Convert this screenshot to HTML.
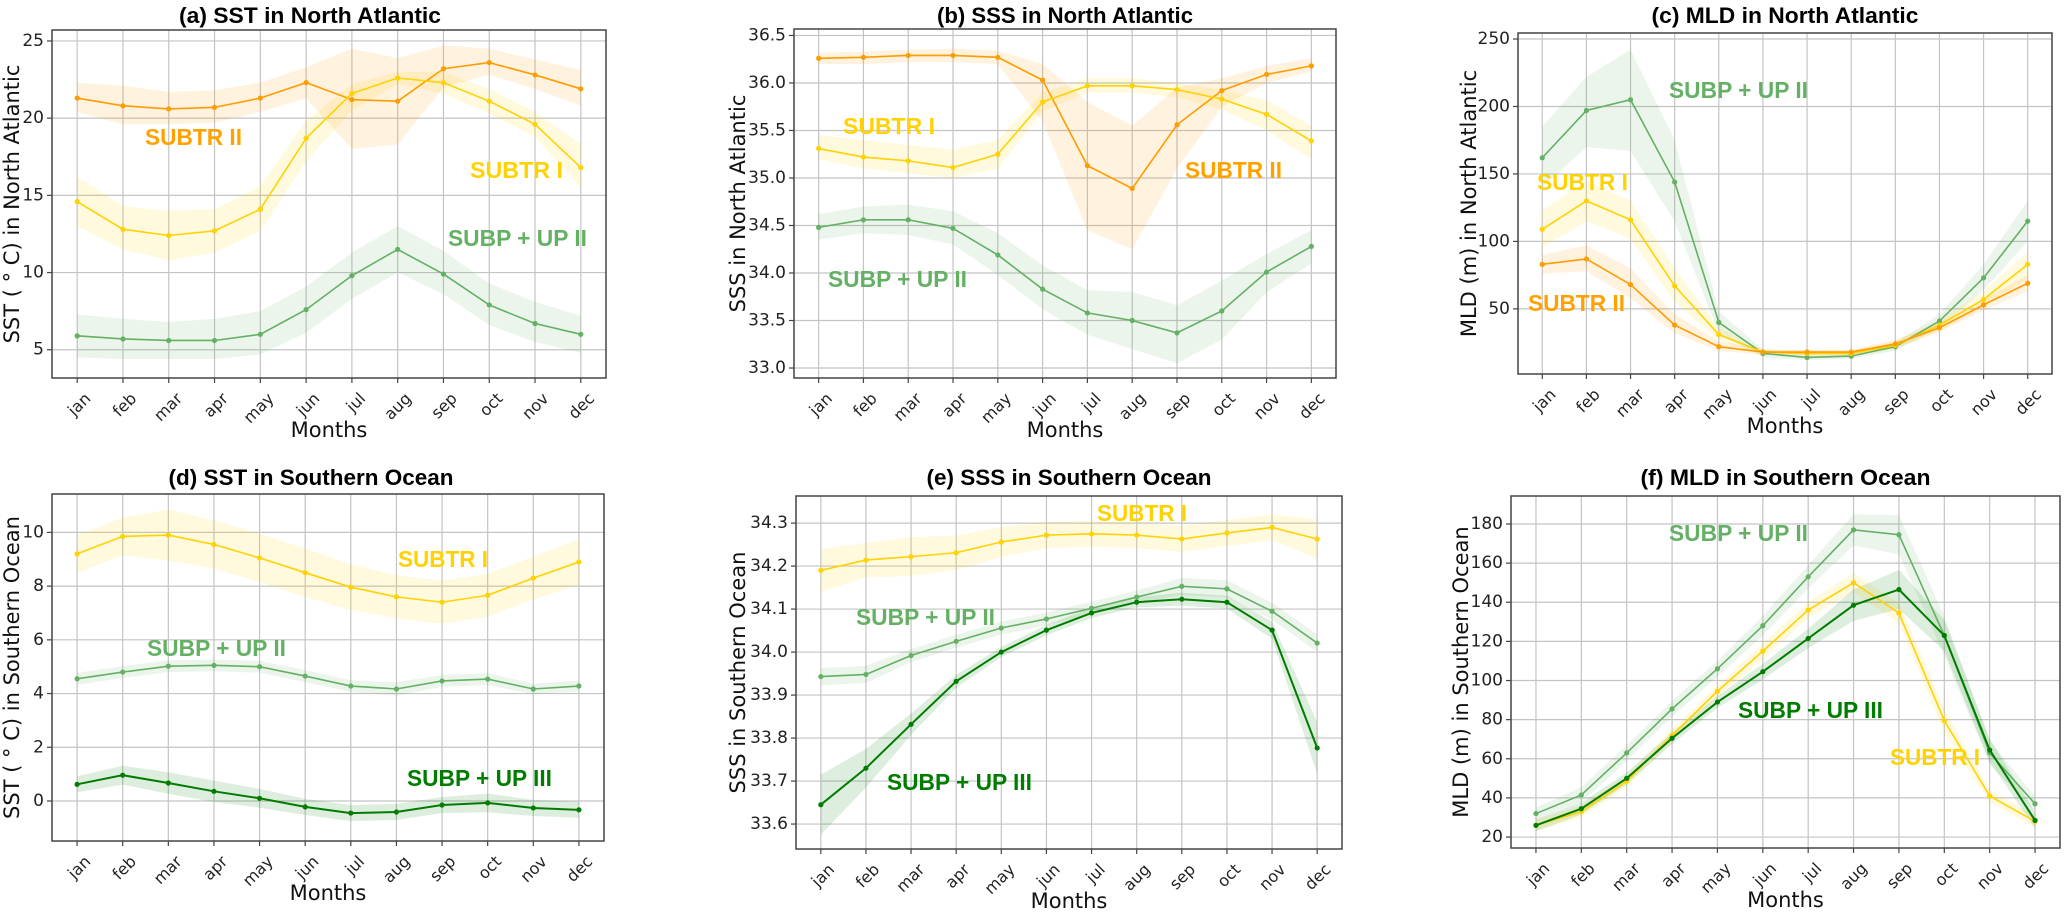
<!DOCTYPE html>
<html><head><meta charset="utf-8"><title>Seasonal cycles</title>
<style>
html,body{margin:0;padding:0;background:#fff;}
svg{display:block;}
</style></head>
<body>
<svg id="fig" xmlns="http://www.w3.org/2000/svg" width="2066" height="914" viewBox="0 0 2066 914"></svg>
<script>
const months = ['jan','feb','mar','apr','may','jun','jul','aug','sep','oct','nov','dec'];

// (a) SST North Atlantic
const aTicks = [5,10,15,20,25];
const aOrange = [21.3,20.8,20.6,20.7,21.3,22.3,21.2,21.1,23.2,23.6,22.8,21.9];
const aOrangeLo = [20.4,19.6,19.6,19.7,20.4,21.3,18.0,18.3,22.0,22.8,21.9,20.8];
const aOrangeHi = [22.3,22.1,21.7,21.8,22.3,23.3,24.5,23.9,24.7,24.5,23.8,23.1];
const aYellow = [14.6,12.8,12.4,12.7,14.1,18.7,21.6,22.6,22.3,21.1,19.6,16.8];
const aYellowLo = [13.0,11.5,10.8,11.3,12.7,17.2,20.5,22.2,21.6,20.3,18.8,15.5];
const aYellowHi = [16.2,14.3,14.0,14.1,15.6,19.8,22.2,23.0,23.0,21.9,20.4,18.3];
const aGreen = [5.9,5.7,5.6,5.6,6.0,7.6,9.8,11.5,9.9,7.9,6.7,6.0];
const aGreenLo = [4.5,4.4,4.4,4.4,4.7,6.1,8.3,10.0,8.6,6.6,5.5,4.8];
const aGreenHi = [7.3,7.0,6.8,7.0,7.5,9.1,11.3,13.0,11.4,9.3,8.1,7.2];

// (b) SSS North Atlantic
const bTicks = [33.0,33.5,34.0,34.5,35.0,35.5,36.0,36.5];
const bOrange = [36.26,36.27,36.29,36.29,36.27,36.03,35.13,34.89,35.56,35.92,36.09,36.18];
const bOrangeLo = [36.20,36.20,36.22,36.22,36.20,35.6,34.45,34.25,35.1,35.75,36.0,36.12];
const bOrangeHi = [36.32,36.33,36.35,36.36,36.34,36.2,35.8,35.55,35.95,36.05,36.18,36.26];
const bYellow = [35.31,35.22,35.18,35.11,35.25,35.80,35.97,35.97,35.93,35.83,35.67,35.39];
const bYellowLo = [35.2,35.1,35.05,35.0,35.1,35.7,35.9,35.9,35.85,35.72,35.5,35.2];
const bYellowHi = [35.45,35.4,35.35,35.3,35.4,35.9,36.05,36.05,36.0,35.93,35.82,35.55];
const bGreen = [34.48,34.56,34.56,34.47,34.19,33.83,33.58,33.50,33.37,33.60,34.01,34.28];
const bGreenLo = [34.35,34.42,34.4,34.3,33.98,33.62,33.35,33.2,33.05,33.3,33.8,34.1];
const bGreenHi = [34.62,34.7,34.72,34.65,34.42,34.08,33.82,33.8,33.66,33.92,34.2,34.45];

// (c) MLD North Atlantic
const cTicks = [50,100,150,200,250];
const cGreen = [162,197,205,144,40,17,14,15,22,41,73,115];
const cGreenLo = [140,170,167,115,32,14,12,13,19,36,64,100];
const cGreenHi = [185,222,242,175,48,20,16,17,25,46,83,130];
const cYellow = [109,130,116,67,31,18,17,17,23,38,57,83];
const cYellowLo = [95,115,102,55,27,16,15,15,20,34,51,73];
const cYellowHi = [123,145,130,80,36,20,19,19,26,42,63,92];
const cOrange = [83,87,68,38,22,18,18,18,24,36,53,69];
const cOrangeLo = [76,78,58,32,19,16,16,16,21,33,49,63];
const cOrangeHi = [90,97,80,46,26,20,20,20,27,40,57,75];

// (d) SST Southern Ocean
const dTicks = [0,2,4,6,8,10];
const dYellow = [9.2,9.85,9.9,9.55,9.05,8.5,7.96,7.6,7.4,7.66,8.3,8.9];
const dYellowHw = [0.7,0.7,0.95,0.9,0.9,0.9,0.85,0.8,0.8,0.8,0.8,0.85];
const dGreen = [4.55,4.8,5.02,5.05,5.0,4.65,4.28,4.17,4.47,4.54,4.17,4.28];
const dGreenHw = [0.22,0.22,0.22,0.22,0.22,0.22,0.22,0.25,0.22,0.22,0.2,0.2];
const dDark = [0.62,0.96,0.67,0.36,0.1,-0.22,-0.45,-0.41,-0.15,-0.07,-0.26,-0.33];
const dDarkHw = [0.3,0.35,0.4,0.4,0.35,0.3,0.3,0.3,0.3,0.35,0.3,0.3];

// (e) SSS Southern Ocean
const eTicks = [33.6,33.7,33.8,33.9,34.0,34.1,34.2,34.3];
const eYellow = [34.19,34.214,34.222,34.231,34.256,34.272,34.275,34.272,34.263,34.277,34.29,34.263];
const eYellowHw = [0.05,0.04,0.045,0.04,0.035,0.03,0.03,0.03,0.03,0.03,0.03,0.045];
const eGreen = [33.943,33.948,33.992,34.025,34.056,34.077,34.102,34.128,34.153,34.147,34.095,34.021];
const eGreenHw = [0.02,0.02,0.015,0.015,0.015,0.015,0.015,0.015,0.02,0.02,0.02,0.02];
const eDark = [33.645,33.73,33.832,33.932,34.0,34.051,34.091,34.116,34.123,34.116,34.051,33.777];
const eDarkHw = [0.07,0.045,0.025,0.015,0.012,0.012,0.012,0.012,0.015,0.015,0.02,0.06];

// (f) MLD Southern Ocean
const fTicks = [20,40,60,80,100,120,140,160,180];
const fGreen = [32,41.5,63,85.5,106,128,153,177,174.5,123,63,37];
const fGreenHw = [3,4,4,4,4,5,6,8,10,10,6,4];
const fYellow = [26,33,48.5,72,94.5,115,136,150,134.5,79.5,41,28];
const fYellowHw = [3,3,3,3,3,4,4,5,5,6,3,3];
const fDark = [26,34.5,50,70.5,89,104.5,121.5,138.5,146.5,123,64.5,28.5];
const fDarkHw = [3,3,3,3,3,4,5,8,10,8,6,4];

const COL = {orange:'#ff9c00', orangeTxt:'#ffa200', yellow:'#ffd200', green:'#64b064', dark:'#007c00'};
const NS = 'http://www.w3.org/2000/svg';
const svg = document.getElementById('fig');

function mk(parent, tag, attrs, text){
  const e = document.createElementNS(NS, tag);
  for (const k in attrs) e.setAttribute(k, attrs[k]);
  if (text !== undefined) e.textContent = text;
  parent.appendChild(e);
  return e;
}
function band(vals, hw, lo, hi){
  if (lo) return {lo:lo, hi:hi};
  return {lo: vals.map((v,i)=>v-hw[i]), hi: vals.map((v,i)=>v+hw[i])};
}

const panels = [
 {id:'a', title:'(a) SST in North Atlantic', tl:262, tcx:310, ty:23, ylabel:'SST ( \u00b0 C) in North Atlantic', ylx:12,
  x0:52,x1:606,y0:30,y1:378,d0:3.17,d1:25.71, ticks:aTicks, dec:0,
  series:[
   {n:'subtr-ii', c:COL.orange, v:aOrange, b:band(aOrange,null,aOrangeLo,aOrangeHi)},
   {n:'subtr-i', c:COL.yellow, v:aYellow, b:band(aYellow,null,aYellowLo,aYellowHi)},
   {n:'subp-up-ii', c:COL.green, v:aGreen, b:band(aGreen,null,aGreenLo,aGreenHi)}],
  labels:[['SUBTR II',COL.orangeTxt,145,137,97],['SUBTR I',COL.yellow,470,170,93],['SUBP + UP II',COL.green,448,238,139]]},
 {id:'b', title:'(b) SSS in North Atlantic', tl:256, ty:23, ylabel:'SSS in North Atlantic', ylx:738,
  x0:794,x1:1336,y0:29,y1:378,d0:32.895,d1:36.568, ticks:bTicks, dec:1,
  series:[
   {n:'subtr-ii', c:COL.orange, v:bOrange, b:band(bOrange,null,bOrangeLo,bOrangeHi)},
   {n:'subtr-i', c:COL.yellow, v:bYellow, b:band(bYellow,null,bYellowLo,bYellowHi)},
   {n:'subp-up-ii', c:COL.green, v:bGreen, b:band(bGreen,null,bGreenLo,bGreenHi)}],
  labels:[['SUBTR I',COL.yellow,843,126,92],['SUBTR II',COL.orangeTxt,1185,170,97],['SUBP + UP II',COL.green,828,279,139]]},
 {id:'c', title:'(c) MLD in North Atlantic', tl:267, ty:23, ylabel:'MLD (m) in North Atlantic', ylx:1469,
  x0:1518,x1:2052,y0:33,y1:374,d0:1.74,d1:254.45, ticks:cTicks, dec:0,
  series:[
   {n:'subp-up-ii', c:COL.green, v:cGreen, b:band(cGreen,null,cGreenLo,cGreenHi)},
   {n:'subtr-i', c:COL.yellow, v:cYellow, b:band(cYellow,null,cYellowLo,cYellowHi)},
   {n:'subtr-ii', c:COL.orange, v:cOrange, b:band(cOrange,null,cOrangeLo,cOrangeHi)}],
  labels:[['SUBP + UP II',COL.green,1669,90,139],['SUBTR I',COL.yellow,1537,182,91],['SUBTR II',COL.orangeTxt,1528,303,97]]},
 {id:'d', title:'(d) SST in Southern Ocean', tl:285, tcx:311, ty:485, ylabel:'SST ( \u00b0 C) in Southern Ocean', ylx:12,
  x0:52,x1:604,y0:494,y1:841,d0:-1.49,d1:11.43, ticks:dTicks, dec:0,
  series:[
   {n:'subtr-i', c:COL.yellow, v:dYellow, b:band(dYellow,dYellowHw)},
   {n:'subp-up-ii', c:COL.green, v:dGreen, b:band(dGreen,dGreenHw)},
   {n:'subp-up-iii', c:COL.dark, v:dDark, b:band(dDark,dDarkHw), w:2}],
  labels:[['SUBP + UP II',COL.green,147,648,139],['SUBTR I',COL.yellow,398,559,90],['SUBP + UP III',COL.dark,407,778,145]]},
 {id:'e', title:'(e) SSS in Southern Ocean', tl:285, ty:485, ylabel:'SSS in Southern Ocean', ylx:738,
  x0:796,x1:1342,y0:496,y1:849,d0:33.542,d1:34.363, ticks:eTicks, dec:1,
  series:[
   {n:'subtr-i', c:COL.yellow, v:eYellow, b:band(eYellow,eYellowHw)},
   {n:'subp-up-ii', c:COL.green, v:eGreen, b:band(eGreen,eGreenHw)},
   {n:'subp-up-iii', c:COL.dark, v:eDark, b:band(eDark,eDarkHw), w:2}],
  labels:[['SUBTR I',COL.yellow,1097,513,90],['SUBP + UP II',COL.green,856,617,139],['SUBP + UP III',COL.dark,887,782,145]]},
 {id:'f', title:'(f) MLD in Southern Ocean', tl:290, ty:485, ylabel:'MLD (m) in Southern Ocean', ylx:1461,
  x0:1511,x1:2060,y0:496,y1:848,d0:14.4,d1:194.3, ticks:fTicks, dec:0,
  series:[
   {n:'subp-up-ii', c:COL.green, v:fGreen, b:band(fGreen,fGreenHw)},
   {n:'subtr-i', c:COL.yellow, v:fYellow, b:band(fYellow,fYellowHw)},
   {n:'subp-up-iii', c:COL.dark, v:fDark, b:band(fDark,fDarkHw), w:2}],
  labels:[['SUBP + UP II',COL.green,1669,533,139],['SUBP + UP III',COL.dark,1738,710,145],['SUBTR I',COL.yellow,1890,757,90]]}
];

const SANS = '"DejaVu Sans","Liberation Sans",sans-serif';
const BOLD = '"Liberation Sans",sans-serif';

panels.forEach(p=>{
  const X = i => p.x0 + (i+0.55)/12.1*(p.x1-p.x0);
  const Y = v => p.y1 - (v-p.d0)/(p.d1-p.d0)*(p.y1-p.y0);
  const g = mk(svg,'g',{});
  
  
  const cx = (p.x0+p.x1)/2, cy=(p.y0+p.y1)/2;

  // grid
  const grid = mk(g,'g',{stroke:'#c4c4c4','stroke-width':1.2});
  
  
  months.forEach((m,i)=>{ mk(grid,'line',{x1:X(i),x2:X(i),y1:p.y0,y2:p.y1}); });
  p.ticks.forEach(t=>{ mk(grid,'line',{x1:p.x0,x2:p.x1,y1:Y(t),y2:Y(t)}); });

  // series
  p.series.forEach(s=>{
    const pts = s.b.hi.map((v,i)=>X(i)+','+Y(v)).concat(s.b.lo.map((v,i)=>X(i)+','+Y(v)).reverse());
    const poly = mk(g,'polygon',{points:pts.join(' '),fill:s.c,'fill-opacity':0.13,stroke:'none'});
    
    
  });
  p.series.forEach(s=>{
    const line = mk(g,'polyline',{points:s.v.map((v,i)=>X(i)+','+Y(v)).join(' '),fill:'none',stroke:s.c,'stroke-width':s.w||1.6});
    
    
    s.v.forEach((v,i)=>{
      const c = mk(g,'circle',{cx:X(i),cy:Y(v),r:2.6,fill:s.c});
      
      
    });
  });

  // frame
  const fr = mk(g,'rect',{x:p.x0,y:p.y0,width:p.x1-p.x0,height:p.y1-p.y0,fill:'none',stroke:'#444','stroke-width':1.5});
  
  

  // y ticks
  p.ticks.forEach(t=>{
    mk(g,'line',{x1:p.x0-5,x2:p.x0,y1:Y(t),y2:Y(t),stroke:'#444','stroke-width':1.2});
    const tl = mk(g,'text',{x:p.x0-8,y:Y(t),'text-anchor':'end','dominant-baseline':'central','font-family':SANS,'font-size':17,fill:'#222'}, t.toFixed(p.dec));
    
    
  });
  // x ticks
  months.forEach((m,i)=>{
    mk(g,'line',{x1:X(i),x2:X(i),y1:p.y1,y2:p.y1+5,stroke:'#444','stroke-width':1.2});
    const ax = X(i)+6, ay = p.y1+13;
    const tl = mk(g,'text',{x:ax,y:ay,'text-anchor':'end','dominant-baseline':'hanging','font-family':SANS,'font-size':16,fill:'#222',transform:'rotate(-45 '+ax+' '+ay+')'}, m);
    
    
  });

  // title
  const tcx = p.tcx || cx;
  const tt = mk(g,'text',{x:tcx,y:p.ty,'text-anchor':'middle','font-family':BOLD,'font-weight':'bold','font-size':22,fill:'#000',textLength:p.tl,lengthAdjust:'spacingAndGlyphs'}, p.title);
  
  
  // y label
  const yl = mk(g,'text',{x:p.ylx,y:cy,'text-anchor':'middle','dominant-baseline':'central','font-family':SANS,'font-size':21,fill:'#111',transform:'rotate(-90 '+p.ylx+' '+cy+')'}, p.ylabel);
  
  
  // x label
  const xl = mk(g,'text',{x:cx,y:p.y1+59,'text-anchor':'middle','font-family':SANS,'font-size':21,fill:'#111'}, 'Months');
  
  

  // annotations
  p.labels.forEach(l=>{
    const t = mk(g,'text',{x:l[2],y:l[3],'dominant-baseline':'central','font-family':BOLD,'font-weight':'bold','font-size':23,fill:l[1],textLength:l[4],lengthAdjust:'spacingAndGlyphs'}, l[0]);
    
    
  });
});
</script>
</body></html>
